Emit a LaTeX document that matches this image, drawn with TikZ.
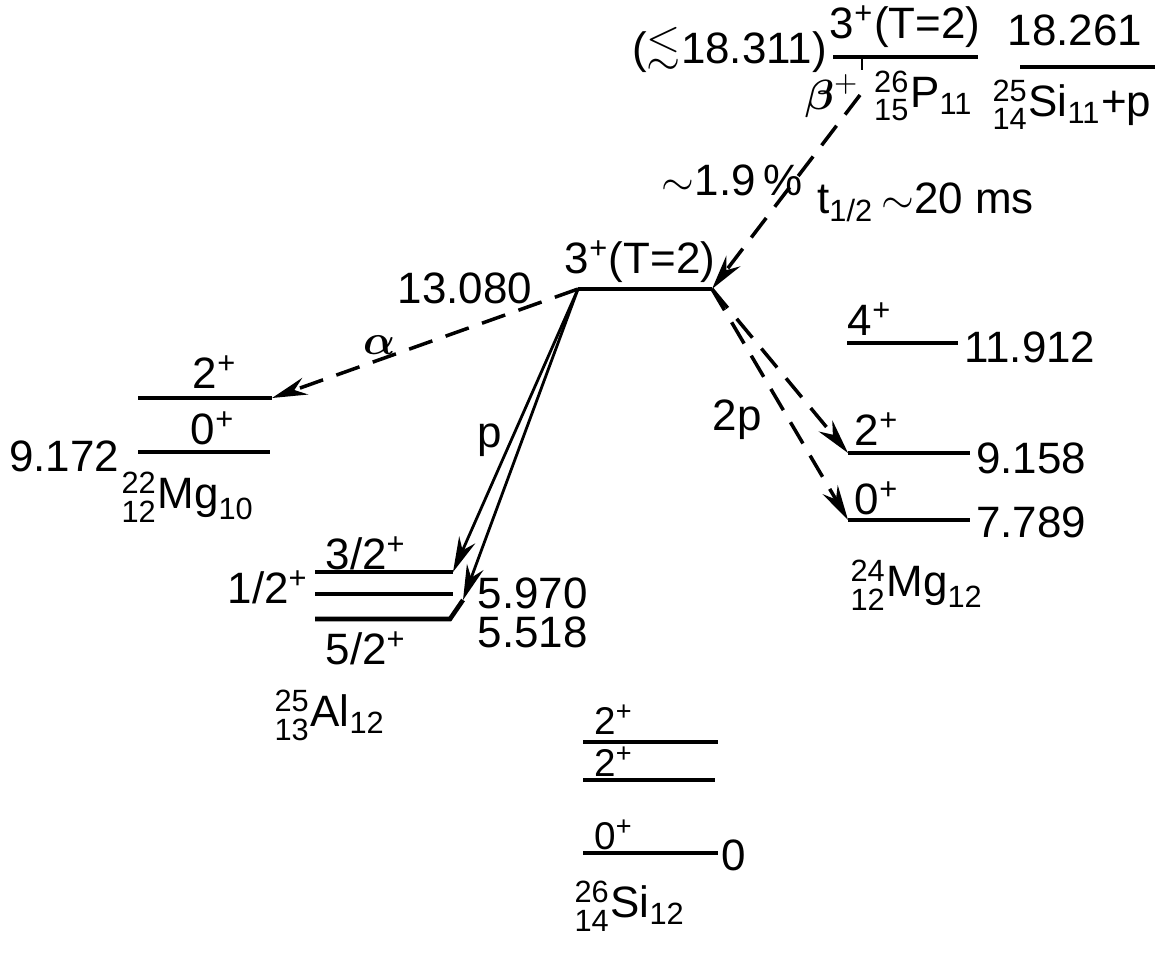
\documentclass[tikz,border=0pt]{standalone}
\usepackage{amsmath,amssymb}
\usepackage{fontspec}
\setmainfont{Liberation Sans}
\usetikzlibrary{arrows.meta}

\newcommand{\nuc}[4]{$^{\text{#1}}_{\text{#2}}\text{#3}_{\text{#4}}$}
\newcommand{\jp}[1]{#1\textsuperscript{+}}

\begin{document}
\begin{tikzpicture}[
    niveau/.style={line width=1.3pt},
    tiret/.style={dashed, line width=1pt, dash pattern=on 7pt off 4pt, -{Stealth[length=10pt,width=5pt]}},
    trait/.style={line width=0.8pt, -{Stealth[length=10pt,width=5pt]}},
    txt/.style={inner sep=1pt, font=\fontsize{12.5}{14}\selectfont},
    petit/.style={inner sep=0pt, font=\fontsize{11}{12}\selectfont}]
        \useasboundingbox (0,0) rectangle (11.64,-9.55);
        % Niveaux du 26P et seuil 25Si+p
        \coordinate (pG) at (8.33,-0.57);  \coordinate (pD) at (9.78,-0.57);
        \coordinate (sG) at (10.20,-0.67); \coordinate (sD) at (11.55,-0.67);
        \draw[niveau] (pG) -- (pD);
        \draw[niveau] (sG) -- (sD);
        \node[txt, anchor=south] (p3) at (9.05,-0.52) {\jp{3}(T=2)};
        \node[txt, anchor=east] (pE) at (8.31,-0.50) {(\raisebox{1pt}{$\lesssim$}18.311)};
        \node[txt] (sE) at (10.75,-0.30) {18.261};
        \node[inner sep=0pt] (beta) at (8.32,-0.96) {\large$\boldsymbol{\beta}^{+}$};
        \node[txt, anchor=west] (p26) at (8.70,-0.96) {\nuc{26}{15}{P}{11}};
        \node[txt] (si25) at (10.72,-1.05) {\nuc{25}{14}{Si}{11}+p};
        \node[txt] (br) at (7.32,-1.80) {$\sim$1.9\,\%};
        \node[txt, anchor=west] (tdemi) at (8.13,-2.02) {t$_{\text{1/2}}$\,$\sim$20 ms};
        % Niveau 13.080 du 26Si
        \coordinate (mG) at (5.78,-2.89); \coordinate (mD) at (7.12,-2.89);
        \draw[niveau] (mG) -- (mD);
        \node[txt] (m3) at (6.40,-2.62) {\jp{3}(T=2)};
        \node[txt] (mE) at (4.65,-2.88) {13.080};
        % Désintégration beta+
        \coordinate (bH) at (8.62,-0.57); \coordinate (bM) at (8.62,-0.70);
        \coordinate (bB) at (8.60,-0.95);
        \draw[line width=0.8pt] (bH) -- (bM);
        \draw[tiret] (bB) -- (mD);
        % 22Mg
        \coordinate (a2G) at (1.38,-3.98); \coordinate (a2D) at (2.72,-3.98);
        \coordinate (a0G) at (1.38,-4.52); \coordinate (a0D) at (2.70,-4.52);
        \draw[niveau] (a2G) -- (a2D);
        \draw[niveau] (a0G) -- (a0D);
        \node[txt] (a2) at (2.15,-3.72) {\jp{2}};
        \node[txt] (a0) at (2.13,-4.28) {\jp{0}};
        \node[txt] (aE) at (0.64,-4.56) {9.172};
        \node[txt] (mg22) at (1.88,-4.97) {\nuc{22}{12}{Mg}{10}};
        \draw[tiret] (mG) -- (a2D) node[txt, pos=0.65, above=0pt] (alpha) {\large$\boldsymbol{\alpha}$};
        % 25Al + p
        \coordinate (l3G) at (3.15,-5.72); \coordinate (l3D) at (4.53,-5.72);
        \coordinate (l1G) at (3.15,-5.94); \coordinate (l1D) at (4.53,-5.94);
        \coordinate (l5G) at (3.15,-6.19); \coordinate (l5D) at (4.50,-6.19);
        \coordinate (pBout) at (4.63,-6.00);
        \draw[niveau] (l3G) -- (l3D);
        \draw[niveau] (l1G) -- (l1D);
        \draw[niveau] (l5G) -- (l5D) -- (pBout);
        \node[txt] (l3) at (3.66,-5.53) {3/2\textsuperscript{+}};
        \node[txt] (l1) at (2.68,-5.87) {1/2\textsuperscript{+}};
        \node[txt] (l5) at (3.66,-6.48) {5/2\textsuperscript{+}};
        \node[txt, inner sep=0pt, anchor=west] (lE1) at (4.77,-5.93) {5.970};
        \node[txt, inner sep=0pt, anchor=west] (lE5) at (4.77,-6.32) {5.518};
        \node[txt] (al25) at (3.30,-7.15) {\nuc{25}{13}{Al}{12}};
        \draw[trait] (mG) -- (l3D);
        \draw[trait] (mG) -- (pBout);
        \node[txt] (pp) at (4.90,-4.40) {p};
        % 24Mg + 2p
        \coordinate (b4G) at (8.47,-3.43); \coordinate (b4D) at (9.58,-3.43);
        \coordinate (b2G) at (8.48,-4.53); \coordinate (b2D) at (9.70,-4.53);
        \coordinate (b0G) at (8.48,-5.20); \coordinate (b0D) at (9.70,-5.20);
        \draw[niveau] (b4G) -- (b4D);
        \draw[niveau] (b2G) -- (b2D);
        \draw[niveau] (b0G) -- (b0D);
        \node[txt] (b4) at (8.70,-3.19) {\jp{4}};
        \node[txt] (b2) at (8.77,-4.29) {\jp{2}};
        \node[txt] (b0) at (8.77,-4.98) {\jp{0}};
        \node[txt, anchor=west] (bE4) at (9.60,-3.47) {11.912};
        \node[txt, anchor=west] (bE2) at (9.72,-4.58) {9.158};
        \node[txt, anchor=west] (bE0) at (9.72,-5.22) {7.789};
        \node[txt] (mg24) at (9.17,-5.85) {\nuc{24}{12}{Mg}{12}};
        \draw[tiret] (mD) -- (b2G);
        \draw[tiret] (mD) -- (b0G);
        \node[txt] (deuxp) at (7.37,-4.20) {2p};
        % 26Si
        \coordinate (c2G) at (5.83,-7.42); \coordinate (c2D) at (7.18,-7.42);
        \coordinate (c1G) at (5.83,-7.80); \coordinate (c1D) at (7.15,-7.80);
        \coordinate (c0G) at (5.83,-8.53); \coordinate (c0D) at (7.18,-8.53);
        \draw[niveau] (c2G) -- (c2D);
        \draw[niveau] (c1G) -- (c1D);
        \draw[niveau] (c0G) -- (c0D);
        \node[petit] (c2) at (6.14,-7.20) {\jp{2}};
        \node[petit] (c1) at (6.14,-7.62) {\jp{2}};
        \node[petit] (c0) at (6.14,-8.35) {\jp{0}};
        \node[txt] (cE) at (7.34,-8.55) {0};
        \node[txt] (si26) at (6.30,-9.06) {\nuc{26}{14}{Si}{12}};
    \end{tikzpicture}
\end{document}
